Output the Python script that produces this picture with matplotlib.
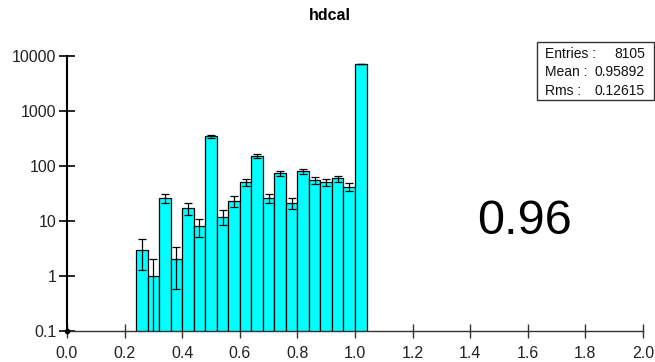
import numpy as np
import matplotlib
matplotlib.use("Agg")
import matplotlib.pyplot as plt
from matplotlib.ticker import FixedLocator, FixedFormatter, NullLocator
from matplotlib.patches import Rectangle

plt.rcParams['font.family'] = ['Liberation Sans', 'DejaVu Sans']

# Histogram "hdcal": 20 bins of width 0.04 from 0.24 to 1.04
bin_edges = [0.24, 0.28, 0.32, 0.36, 0.40, 0.44, 0.48, 0.52, 0.56, 0.60, 0.64,
             0.68, 0.72, 0.76, 0.80, 0.84, 0.88, 0.92, 0.96, 1.00, 1.04]
counts = [3, 1, 26, 2, 17, 8, 343, 12, 23, 51, 149,
          26, 73, 21, 79, 55, 50, 59, 42, 7065]

x_ticks = [0.0, 0.2, 0.4, 0.6, 0.8, 1.0, 1.2, 1.4, 1.6, 1.8, 2.0]
x_tick_labels = ["0.0", "0.2", "0.4", "0.6", "0.8", "1.0", "1.2", "1.4", "1.6", "1.8", "2.0"]
y_ticks = [0.1, 1, 10, 100, 1000, 10000]
y_tick_labels = ["0.1", "1", "10", "100", "1000", "10000"]

stats_labels = ["Entries :", "Mean :", "Rms :"]
stats_values = ["8105", "0.95892", "0.12615"]
title = "hdcal"
annotation = "0.96"

W, H = 655, 362
fig = plt.figure(figsize=(W / 100, H / 100), dpi=100)
ax = fig.add_axes([67 / W, 1 - 331 / H, (643 - 67) / W, (331 - 55.7) / H])

edges = np.array(bin_edges)
vals = np.array(counts, dtype=float)
widths = np.diff(edges)
centers = edges[:-1] + widths / 2
errs = np.sqrt(vals)

ax.bar(edges[:-1], vals, width=widths, align='edge', color='#00ffff',
       edgecolor='black', linewidth=0.9, zorder=2)
ax.errorbar(centers, vals, yerr=errs, fmt='none', ecolor='black',
            elinewidth=0.9, capsize=3.2, capthick=0.9, zorder=3)

ax.set_yscale('log', nonpositive='clip')
ax.set_xlim(0.0, 2.0)
ax.set_ylim(0.1, 10000)

ax.xaxis.set_major_locator(FixedLocator(x_ticks))
ax.xaxis.set_major_formatter(FixedFormatter(x_tick_labels))
ax.yaxis.set_major_locator(FixedLocator(y_ticks))
ax.yaxis.set_major_formatter(FixedFormatter(y_tick_labels))
ax.yaxis.set_minor_locator(NullLocator())
ax.xaxis.set_minor_locator(NullLocator())

for s in ('top', 'right'):
    ax.spines[s].set_visible(False)
ax.spines['left'].set_linewidth(1.5)
ax.spines['left'].set_color('black')
ax.spines['bottom'].set_linewidth(1.0)
ax.spines['bottom'].set_color('#333333')

ax.tick_params(axis='y', direction='inout', length=11, width=1.2,
               pad=2, labelsize=11.5, colors='black')
ax.tick_params(axis='x', direction='inout', length=9.5, width=1.0,
               pad=6, labelsize=11.5, colors='#333333')
for lab in ax.get_yticklabels() + ax.get_xticklabels():
    lab.set_color('#222222')

# dot at the axis origin
ax.plot([0.0], [0.1], 'o', color='black', markersize=3, clip_on=False, zorder=5)

fig.text(330 / W, 1 - 15 / H, title, ha='center', va='center',
         fontsize=11.5, fontweight='bold')

# statistics box
box = Rectangle((537 / W, 1 - 99.5 / H), (654 - 537) / W, (99.5 - 42) / H,
                transform=fig.transFigure, facecolor='white',
                edgecolor='#333333', linewidth=1.0)
fig.add_artist(box)
line_y = [54, 72, 91]
for lbl, val, yy in zip(stats_labels, stats_values, line_y):
    fig.text(545 / W, 1 - yy / H, lbl, ha='left', va='center',
             fontsize=10, color='#111111')
    fig.text(645 / W, 1 - yy / H, val, ha='right', va='center',
             fontsize=10, color='#111111')

fig.text(524.5 / W, 1 - 234 / H, annotation, ha='center', va='baseline',
         fontsize=35, color='black')

fig.savefig("out.png", dpi=100)
